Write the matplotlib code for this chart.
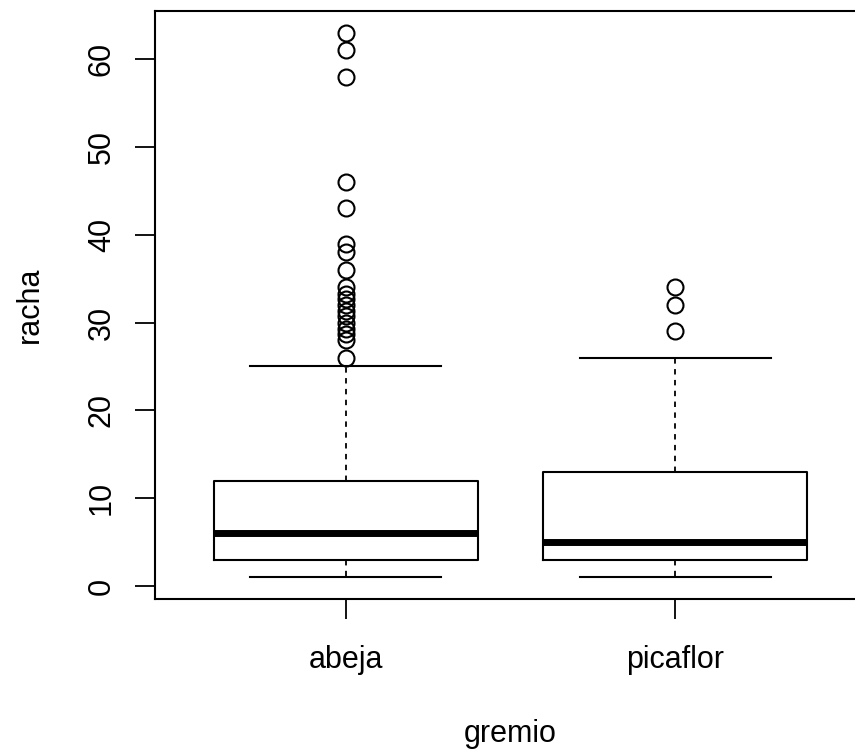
import matplotlib
matplotlib.use("Agg")
import matplotlib.pyplot as plt

# ---- data ----
categories = ["abeja", "picaflor"]
q1 = [3, 3]
medians = [6, 5]
q3 = [12, 13]
whisker_low = [1, 1]
whisker_high = [25, 26]
outliers_abeja = [63, 61, 58, 46, 43, 39, 38, 36, 34, 33.3, 32.7, 32, 31.3, 30.7, 30, 29.3, 28.7, 28, 26]
outliers_picaflor = [34, 32, 29]
y_ticks = [0, 10, 20, 30, 40, 50, 60]

plt.rcParams['font.family'] = ['Liberation Sans', 'DejaVu Sans']

W, H = 855, 749
fig = plt.figure(figsize=(W / 100, H / 100), dpi=100)
left, right, bottom, top = 155, 866, 599, 11
ax = fig.add_axes([left / W, 1 - bottom / H, (right - left) / W, (bottom - top) / H])

stats = []
for i, name in enumerate(categories):
    stats.append(dict(
        label=name, med=medians[i], q1=q1[i], q3=q3[i],
        whislo=whisker_low[i], whishi=whisker_high[i],
        fliers=[outliers_abeja, outliers_picaflor][i],
    ))

ax.bxp(stats, positions=[1, 2], widths=0.8, capwidths=0.58,
       boxprops=dict(color='black', linewidth=1.5),
       medianprops=dict(color='black', linewidth=5, solid_capstyle='butt'),
       whiskerprops=dict(color='black', linewidth=1.3, linestyle=(0, (3, 3))),
       capprops=dict(color='black', linewidth=1.5),
       flierprops=dict(marker='o', markerfacecolor='none', markeredgecolor='black',
                       markersize=11.5, markeredgewidth=1.5, linestyle='none'))

ax.set_xlim(0.42, 2.58)
ax.set_ylim(-1.48, 65.48)
ax.set_yticks(y_ticks)
ax.set_yticklabels([str(v) for v in y_ticks], rotation=90, va='center')
ax.set_xticks([1, 2])
ax.set_xticklabels(categories)
ax.tick_params(axis='both', labelsize=22, length=14.4, width=1.3, color='black')
ax.tick_params(axis='y', pad=13)
ax.tick_params(axis='x', pad=19)
for s in ax.spines.values():
    s.set_linewidth(1.5)

fig.text(30 / W, 1 - 305 / H, "racha", rotation=90, ha='center', va='center', fontsize=22)
fig.text(510 / W, 1 - 734 / H, "gremio", ha='center', va='center', fontsize=22)

fig.savefig("out.png", dpi=100)
